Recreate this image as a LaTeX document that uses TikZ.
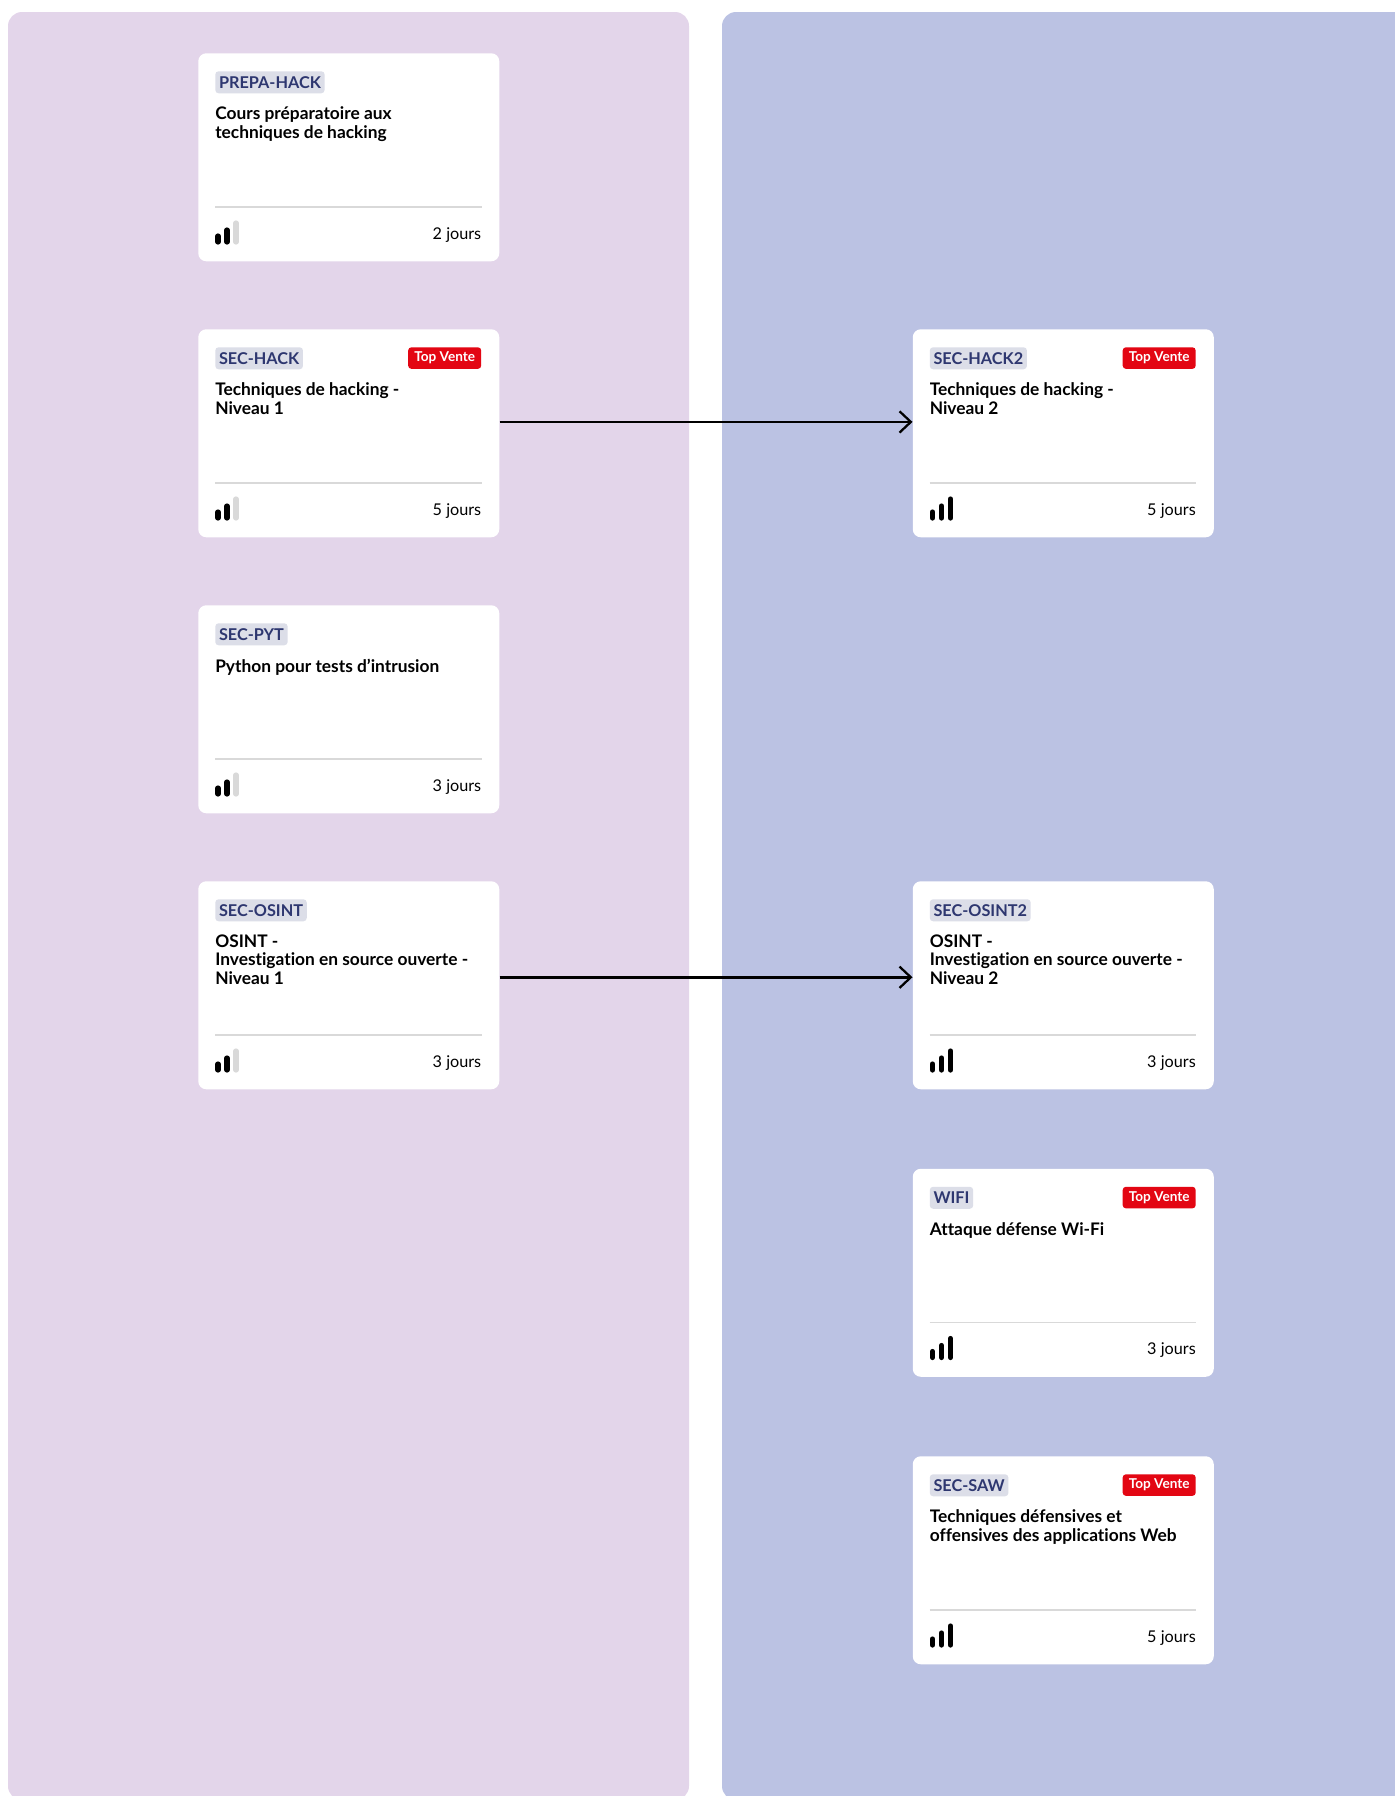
\documentclass[tikz,border=0pt]{standalone}
\usepackage{fontspec}
\setmainfont[Ligatures={NoCommon,TeX}]{Lato}
\usetikzlibrary{arrows.meta,positioning,calc}
\definecolor{panelL}{HTML}{E3D5EA}
\definecolor{panelR}{HTML}{BBC2E3}
\definecolor{codebg}{HTML}{DCDEE8}
\definecolor{codefg}{HTML}{2E3770}
\definecolor{topred}{HTML}{E30613}
\definecolor{rulegray}{HTML}{D9D9D9}
\tikzset{
  x=0.75pt,y=-0.75pt,
  card/.style={draw=none,fill=white,rounded corners=6pt,minimum width=225.75pt,minimum height=156pt,inner sep=0,anchor=north west},
  code/.style={fill=codebg,text=codefg,rounded corners=2.5pt,font=\fontsize{12.2pt}{14pt}\selectfont\bfseries,inner xsep=2.8pt,inner ysep=0pt,minimum height=16.5pt,anchor=north west},
  topv/.style={fill=topred,text=white,rounded corners=2.5pt,font=\fontsize{10.2pt}{12pt}\selectfont\bfseries,inner xsep=4.6pt,inner ysep=0pt,minimum height=16.2pt,anchor=north east},
  ctitle/.style={font=\fontsize{13pt}{13.9pt}\selectfont\bfseries,align=left,inner sep=0,anchor=north west,text=black},
  days/.style={font=\fontsize{12.15pt}{14pt}\selectfont,inner sep=0,anchor=east,text=black},
  sep/.style={draw=rulegray,line width=1.1pt},
  bar/.style={line width=3.9pt,line cap=round},
  flow/.style={draw=black,line width=1.9pt,-{Straight Barb[length=8.5pt,width=16pt,line width=1.7pt]}}
}
% #1 name, #2 x, #3 y, #4 code, #5 title, #6 days, #7 third bar colour, #8 badge
\newcommand{\coursecard}[8]{%
  \node[card] (#1) at (#2,#3) {};
  \node[code] (#1code) at ($(#2,#3)+(17,18)$) {#4};
  \node[ctitle] (#1title) at ($(#2,#3)+(17,53.5)$) {#5};
  \node[days] (#1days) at ($(#2,#3)+(283.5,182)$) {#6};
  \coordinate (#1ra) at ($(#2,#3)+(17,154)$);
  \coordinate (#1rb) at ($(#2,#3)+(283.5,154)$);
  \draw[sep] (#1ra) -- (#1rb);
  \draw[bar,black] ($(#2,#3)+(20,183)$) -- ($(#2,#3)+(20,189)$);
  \draw[bar,black] ($(#2,#3)+(29,177)$) -- ($(#2,#3)+(29,189)$);
  \draw[bar,#7] ($(#2,#3)+(38,170)$) -- ($(#2,#3)+(38,189)$);
  #8
}
\newcommand{\badge}[3]{\node[topv] (#1top) at ($(#2,#3)+(283.5,18)$) {Top Vente};}
\begin{document}
\begin{tikzpicture}
\useasboundingbox (0,0) rectangle (1395,1796);
\fill[panelL,rounded corners=10.5pt] (8,12) rectangle (689,1800);
\fill[panelR,rounded corners=10.5pt] (722,12) rectangle (1440,1800);
\coursecard{prepa}{198}{53}{PREPA-HACK}{Cours préparatoire aux\\techniques de hacking}{2 jours}{rulegray}{}
\coursecard{hack}{198}{329}{SEC-HACK}{Techniques de hacking -\\Niveau 1}{5 jours}{rulegray}{\badge{hack}{198}{329}}
\coursecard{pyt}{198}{605}{SEC-PYT}{Python pour tests d’intrusion}{3 jours}{rulegray}{}
\coursecard{osint}{198}{881}{SEC-OSINT}{OSINT -\\Investigation en source ouverte -\\Niveau 1}{3 jours}{rulegray}{}
\coursecard{hackb}{912.5}{329}{SEC-HACK2}{Techniques de hacking -\\Niveau 2}{5 jours}{black}{\badge{hackb}{912.5}{329}}
\coursecard{osintb}{912.5}{881}{SEC-OSINT2}{OSINT -\\Investigation en source ouverte -\\Niveau 2}{3 jours}{black}{}
\coursecard{wifi}{912.5}{1168.5}{WIFI}{Attaque défense Wi-Fi}{3 jours}{black}{\badge{wifi}{912.5}{1168.5}}
\coursecard{saw}{912.5}{1456}{SEC-SAW}{Techniques défensives et\\offensives des applications Web}{5 jours}{black}{\badge{saw}{912.5}{1456}}
\draw[flow] ([yshift=8.5pt]hack.east) -- ([yshift=8.5pt]hackb.west);
\draw[flow] ([yshift=6pt]osint.east) -- ([yshift=6pt]osintb.west);
\end{tikzpicture}
\end{document}
